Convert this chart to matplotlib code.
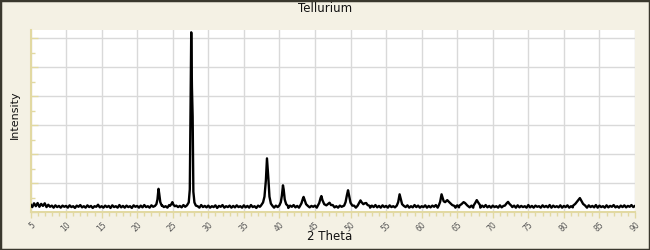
import numpy as np
import matplotlib
matplotlib.use('Agg')
import matplotlib.pyplot as plt
from matplotlib.patches import Rectangle
from matplotlib.ticker import MultipleLocator

# Untergrund (Rauschen), 5.00 .. 90.00 in 0.25-Schritten
baseline_start = 5.0
baseline_step = 0.25
baseline_counts = [
    260, 170, 300, 200, 310, 180, 280, 210, 300, 170, 250, 180, 220, 150, 230, 170, 210, 150, 220, 180,
    210, 150, 230, 170, 200, 140, 220, 180, 240, 160, 200, 150, 230, 170, 210, 140, 200, 180, 250, 160,
    200, 150, 220, 170, 210, 140, 230, 170, 200, 150, 240, 160, 210, 150, 220, 170, 200, 140, 230, 180,
    210, 150, 220, 160, 240, 170, 200, 150, 230, 180, 210, 160, 220, 150, 230, 170, 200, 150, 240, 170,
    200, 150, 220, 170, 210, 160, 240, 180, 200, 150, 220, 160, 230, 170, 200, 150, 240, 170, 210, 160,
    220, 150, 200, 170, 230, 140, 210, 180, 240, 150, 200, 170, 220, 150, 210, 160, 230, 170, 200, 150,
    230, 160, 210, 150, 240, 170, 200, 140, 220, 180, 210, 150, 230, 170, 200, 160, 240, 150, 220, 170,
    200, 150, 230, 170, 210, 140, 220, 180, 240, 160, 210, 150, 220, 170, 200, 150, 230, 160, 210, 180,
    220, 150, 240, 170, 200, 160, 230, 150, 210, 170, 240, 160, 200, 150, 220, 180, 210, 150, 230, 170,
    200, 160, 220, 150, 240, 170, 210, 150, 230, 180, 200, 150, 220, 170, 240, 160, 210, 150, 230, 170,
    210, 150, 230, 170, 200, 160, 240, 180, 220, 150, 210, 170, 230, 150, 200, 160, 240, 170, 220, 150,
    200, 170, 230, 150, 210, 160, 220, 180, 240, 150, 210, 170, 200, 150, 230, 160, 220, 170, 210, 150,
    230, 160, 200, 150, 240, 170, 210, 160, 220, 150, 230, 180, 200, 150, 220, 170, 240, 160, 210, 150,
    220, 170, 200, 150, 230, 160, 210, 180, 240, 150, 200, 170, 220, 150, 230, 160, 210, 170, 200, 150,
    240, 160, 210, 150, 220, 180, 200, 150, 230, 170, 210, 160, 240, 150, 220, 170, 200, 160, 230, 150,
    210, 170, 230, 150, 200, 160, 240, 170, 210, 150, 220, 180, 200, 150, 230, 170, 210, 160, 240, 150,
    220, 170, 200, 150, 230, 160, 210, 180, 240, 160, 200, 150, 220, 170, 230, 160, 210, 180, 240, 170,
    210,
]

# Reflexe: (2 Theta, Counts)
peaks = [
    [(22.5, 210), (22.7, 270), (22.85, 430), (23.0, 800), (23.1, 630), (23.25, 340), (23.45, 220)],
    [(24.6, 210), (24.8, 270), (24.95, 340), (25.1, 250), (25.3, 200)],
    [(27.0, 230), (27.25, 330), (27.4, 780), (27.5, 3300), (27.6, 6200), (27.7, 4300),
     (27.8, 3300), (27.9, 700), (28.05, 330), (28.25, 220)],
    [(37.4, 220), (37.7, 330), (37.9, 530), (38.1, 1100), (38.25, 1850), (38.35, 1500),
     (38.45, 1150), (38.6, 530), (38.8, 290), (39.0, 220)],
    [(40.0, 230), (40.2, 340), (40.35, 570), (40.5, 920), (40.6, 780), (40.75, 430), (40.95, 270), (41.2, 210)],
    [(42.9, 210), (43.1, 300), (43.3, 460), (43.4, 520), (43.55, 410), (43.75, 270), (44.0, 210)],
    [(45.4, 220), (45.6, 310), (45.8, 490), (45.9, 550), (46.05, 410), (46.3, 270), (46.6, 230),
     (46.9, 290), (47.05, 320), (47.25, 240)],
    [(49.1, 220), (49.3, 340), (49.5, 590), (49.65, 750), (49.8, 570), (50.0, 320), (50.25, 220)],
    [(51.0, 220), (51.25, 330), (51.4, 400), (51.55, 340), (51.8, 270), (52.0, 300), (52.2, 310),
     (52.4, 240), (52.7, 210)],
    [(56.5, 220), (56.7, 340), (56.9, 610), (57.05, 460), (57.25, 270), (57.5, 210)],
    [(62.4, 220), (62.6, 350), (62.8, 610), (62.95, 490), (63.1, 370), (63.3, 340), (63.6, 410),
     (63.75, 370), (64.0, 310), (64.3, 240), (64.6, 210)],
    [(65.3, 220), (65.6, 270), (65.9, 340), (66.1, 310), (66.4, 230)],
    [(67.3, 220), (67.55, 320), (67.75, 410), (67.95, 330), (68.2, 240)],
    [(71.7, 220), (71.95, 300), (72.15, 350), (72.35, 280), (72.6, 220)],
    [(81.3, 220), (81.6, 280), (81.9, 370), (82.1, 430), (82.25, 480), (82.45, 390), (82.7, 280), (83.0, 220)],
]


def build_pattern():
    theta = baseline_start + baseline_step * np.arange(len(baseline_counts))
    counts = np.array(baseline_counts, dtype=float)

    # Untergrundpunkte innerhalb der Reflexe entfernen
    keep = np.ones(len(theta), dtype=bool)
    for pk in peaks:
        lo, hi = pk[0][0], pk[-1][0]
        keep &= ~((theta >= lo) & (theta <= hi))

    pk_theta = np.array([p[0] for pk in peaks for p in pk])
    pk_counts = np.array([p[1] for pk in peaks for p in pk], dtype=float)

    x = np.concatenate([theta[keep], pk_theta])
    y = np.concatenate([counts[keep], pk_counts])
    order = np.argsort(x)
    return x[order], y[order]


def main():
    bg = '#f4f1e4'
    axis_col = '#e2d9a2'

    fig = plt.figure(figsize=(6.5, 2.5), dpi=100, facecolor=bg)
    ax = fig.add_axes([30.5 / 650, 1 - 212 / 250, (635 - 30.5) / 650, (212 - 30) / 250])
    ax.set_facecolor('white')

    x, y = build_pattern()
    ax.plot(x, y, color='black', linewidth=1.7, zorder=3)

    ax.set_xlim(5, 90)
    ax.set_ylim(0, 6280)

    ax.xaxis.set_major_locator(MultipleLocator(5))
    ax.xaxis.set_minor_locator(MultipleLocator(1))
    ax.yaxis.set_major_locator(MultipleLocator(1000))
    ax.yaxis.set_minor_locator(MultipleLocator(500))

    ax.grid(True, which='major', color='#d9d9d9', linewidth=1.0)
    ax.set_axisbelow(True)

    for side in ['top', 'right']:
        ax.spines[side].set_visible(False)
    for side in ['left', 'bottom']:
        ax.spines[side].set_color(axis_col)
        ax.spines[side].set_linewidth(1.5)

    ax.tick_params(axis='x', which='major', direction='out', length=4, width=1, color=axis_col,
                   labelsize=5.5, labelcolor='#555555', pad=2)
    ax.tick_params(axis='x', which='minor', direction='out', length=3, width=1, color=axis_col)
    ax.tick_params(axis='y', which='major', direction='in', length=5, width=1, color=axis_col,
                   labelleft=False)
    ax.tick_params(axis='y', which='minor', direction='in', length=3, width=1, color=axis_col)

    for lbl in ax.get_xticklabels():
        lbl.set_rotation(45)
        lbl.set_ha('right')
        lbl.set_va('top')
        lbl.set_rotation_mode('anchor')

    fig.text(0.5, 1 - 9 / 250, 'Tellurium', ha='center', va='center', fontsize=8.5, color='#111111')
    fig.text(330 / 650, 1 - 237 / 250, '2 Theta', ha='center', va='center', fontsize=8.5, color='#111111')
    fig.text(15 / 650, 1 - 115 / 250, 'Intensity', ha='center', va='center', rotation=90,
             fontsize=8, color='#111111')

    fig.patches.append(Rectangle((0, 0), 1, 1, transform=fig.transFigure, fill=False,
                                 edgecolor='#3a382e', linewidth=2.5, zorder=10))

    fig.savefig('out.png', dpi=100, facecolor=bg)


if __name__ == '__main__':
    main()
